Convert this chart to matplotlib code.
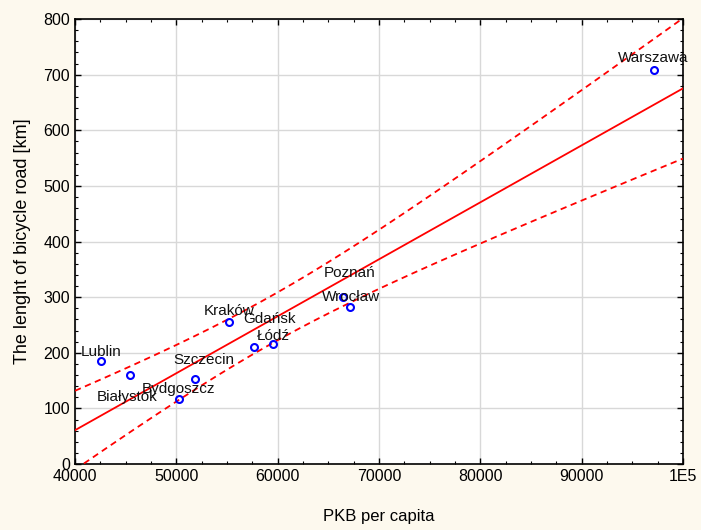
import numpy as np
from matplotlib import pyplot as plt
from matplotlib.ticker import MultipleLocator, FuncFormatter

# data
cities = ['Lublin', 'Białystok', 'Bydgoszcz', 'Szczecin', 'Kraków',
          'Gdańsk', 'Łódź', 'Poznań', 'Wrocław', 'Warszawa']
pkb = [42540, 45430, 50260, 51810, 55200, 57670, 59540, 66450, 67140, 97140]
road_km = [186, 160, 116, 152, 255, 210, 216, 300, 282, 709]

# label offsets in pixels (label centre relative to the point)
label_offsets = {
    'Lublin': (0, 9), 'Białystok': (-3, -22), 'Bydgoszcz': (0, 10),
    'Szczecin': (9, 19), 'Kraków': (0, 11), 'Gdańsk': (15, 28),
    'Łódź': (0, 8), 'Poznań': (7, 24), 'Wrocław': (1, 10), 'Warszawa': (-1, 12),
}

plt.rcParams['font.family'] = ['Liberation Sans', 'DejaVu Sans']

x = np.array(pkb, dtype=float)
y = np.array(road_km, dtype=float)

# linear fit with 95% confidence band for the mean
n = len(x)
b, a = np.polyfit(x, y, 1)
resid = y - (a + b * x)
s = np.sqrt(np.sum(resid ** 2) / (n - 2))
t_crit = 2.306  # t(0.975, df=8)
xs = np.linspace(40000, 100000, 300)
ys = a + b * xs
se = s * np.sqrt(1.0 / n + (xs - x.mean()) ** 2 / np.sum((x - x.mean()) ** 2))

fig = plt.figure(figsize=(7.01, 5.30), dpi=100, facecolor='#fdf9ee')
ax = fig.add_axes([75 / 701, 66 / 530, 608 / 701, 445 / 530])
ax.set_facecolor('white')

ax.plot(xs, ys, color='red', lw=1.3, zorder=3)
ax.plot(xs, ys + t_crit * se, color='red', lw=1.3, ls=(0, (3.5, 2.5)), zorder=3)
ax.plot(xs, ys - t_crit * se, color='red', lw=1.3, ls=(0, (3.5, 2.5)), zorder=3)

ax.plot(x, y, 'o', ms=5, mfc='none', mec='blue', mew=1.5, zorder=4)

for name, px, py in zip(cities, pkb, road_km):
    ax.annotate(name, (px, py), xytext=label_offsets[name], textcoords='offset pixels',
                ha='center', va='center', fontsize=11, color='#111111', zorder=5,
                annotation_clip=False)

ax.set_xlim(40000, 100000)
ax.set_ylim(0, 800)
ax.xaxis.set_major_locator(MultipleLocator(10000))
ax.xaxis.set_minor_locator(MultipleLocator(2500))
ax.yaxis.set_major_locator(MultipleLocator(100))
ax.yaxis.set_minor_locator(MultipleLocator(20))
ax.xaxis.set_major_formatter(FuncFormatter(lambda v, p: '1E5' if v >= 100000 else '%d' % v))

ax.grid(True, which='major', color='#d8d8d8', lw=1)
ax.set_axisbelow(True)
ax.tick_params(which='both', direction='in', top=True, right=True, labelsize=11.5, colors='black')
ax.tick_params(which='major', length=4, width=1)
ax.tick_params(which='minor', length=2.5, width=0.8)
for sp in ax.spines.values():
    sp.set_linewidth(1.2)

ax.set_xlabel('PKB per capita', fontsize=12, labelpad=18)
ax.set_ylabel('The lenght of bicycle road [km]', fontsize=13, labelpad=9)

fig.savefig('out.png', dpi=100, facecolor=fig.get_facecolor())
